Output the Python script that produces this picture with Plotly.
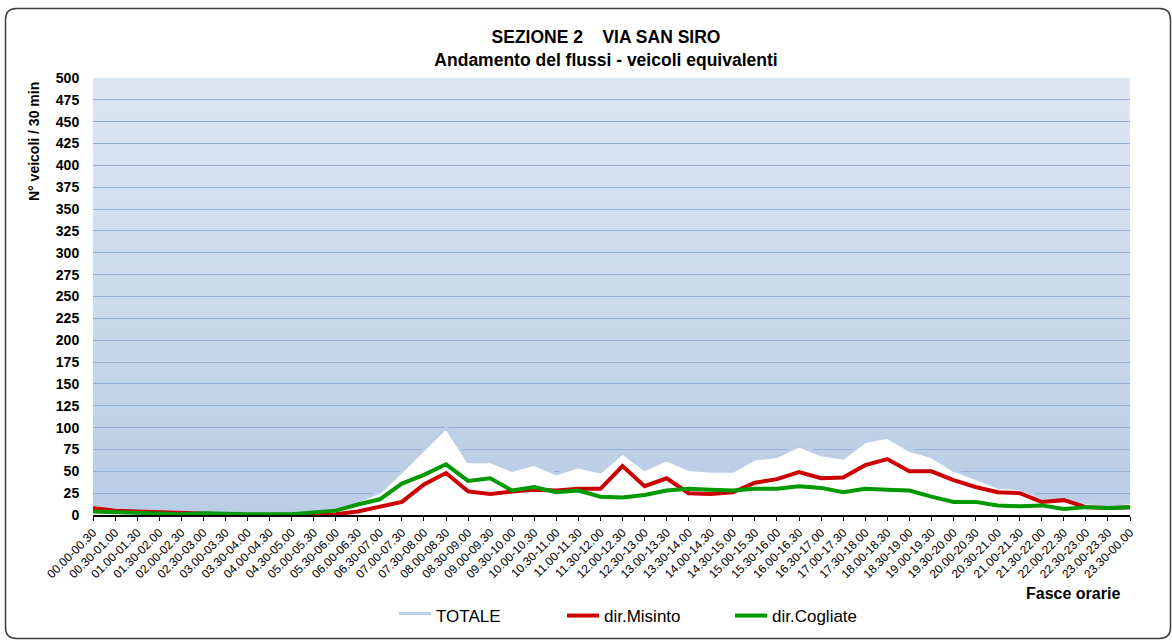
import plotly.graph_objects as go

# fasce orarie (30 min)
fasce = ["00.00-00.30", "00.30-01.00", "01.00-01.30", "01.30-02.00", "02.00-02.30", "02.30-03.00",
         "03.00-03.30", "03.30-04.00", "04.00-04.30", "04.30-05.00", "05.00-05.30", "05.30-06.00",
         "06.00-06.30", "06.30-07.00", "07.00-07.30", "07.30-08.00", "08.00-08.30", "08.30-09.00",
         "09.00-09.30", "09.30-10.00", "10.00-10.30", "10.30-11.00", "11.00-11.30", "11.30-12.00",
         "12.00-12.30", "12.30-13.00", "13.00-13.30", "13.30-14.00", "14.00-14.30", "14.30-15.00",
         "15.00-15.30", "15.30-16.00", "16.00-16.30", "16.30-17.00", "17.00-17.30", "17.30-18.00",
         "18.00-18.30", "18.30-19.00", "19.00-19.30", "19.30-20.00", "20.00-20.30", "20.30-21.00",
         "21.00-21.30", "21.30-22.00", "22.00-22.30", "22.30-23.00", "23.00-23.30", "23.30-00.00"]

totale = [12, 8, 6, 4, 3, 3, 2, 1, 1, 1, 3, 6, 16,
          26, 50, 75, 100, 61, 61, 51, 58, 47, 55, 49, 71, 52, 63,
          52, 50, 50, 64, 67, 79, 69, 65, 84, 89, 74, 67, 51,
          42, 32, 30, 20, 18, 14, 12, 14]

misinto = [8, 5, 4, 3, 2, 1, 1, 0, 0, 0, 0, 1, 4,
           9, 15, 35, 48, 27, 24, 27, 29, 28, 30, 30, 56, 33, 42,
           25, 24, 26, 37, 41, 49, 42, 43, 57, 64, 50, 50, 40,
           32, 26, 25, 15, 17, 9, 8, 9]

cogliate = [4, 3, 2, 1, 1, 2, 1, 1, 1, 1, 3, 5, 12,
            18, 36, 46, 58, 39, 42, 28, 32, 26, 28, 21, 20, 23, 28,
            30, 29, 28, 30, 30, 33, 31, 26, 30, 29, 28, 21, 15,
            15, 11, 10, 11, 7, 9, 8, 9]

y_ticks = list(range(0, 501, 25))

FONT = "Arial, Liberation Sans, sans-serif"

# plot area in pixels (for placing things in the margins)
L, R, T, B = 93, 1130, 78, 515


def px_x(px):
    return (px - L) / (R - L)


def px_y(py):
    return (B - py) / (B - T)


def rounded_rect(x0, y0, x1, y1, r):
    # path in paper coords from pixel corners
    pts = [
        f"M {px_x(x0 + r)},{px_y(y0)}",
        f"L {px_x(x1 - r)},{px_y(y0)}",
        f"Q {px_x(x1)},{px_y(y0)} {px_x(x1)},{px_y(y0 + r)}",
        f"L {px_x(x1)},{px_y(y1 - r)}",
        f"Q {px_x(x1)},{px_y(y1)} {px_x(x1 - r)},{px_y(y1)}",
        f"L {px_x(x0 + r)},{px_y(y1)}",
        f"Q {px_x(x0)},{px_y(y1)} {px_x(x0)},{px_y(y1 - r)}",
        f"L {px_x(x0)},{px_y(y0 + r)}",
        f"Q {px_x(x0)},{px_y(y0)} {px_x(x0 + r)},{px_y(y0)}",
        "Z",
    ]
    return " ".join(pts)


fig = go.Figure()

fig.add_trace(go.Scatter(x=fasce, y=totale, name="TOTALE", mode="lines",
                         fill="tozeroy", fillcolor="white",
                         line=dict(color="#bccfe6", width=3)))
fig.add_trace(go.Scatter(x=fasce, y=misinto, name="dir.Misinto", mode="lines",
                         line=dict(color="#cc0000", width=4)))
fig.add_trace(go.Scatter(x=fasce, y=cogliate, name="dir.Cogliate", mode="lines",
                         line=dict(color="#009900", width=4)))

# gradient background of the plot area
shapes = []
n_bands = 60
top_c = (221, 231, 243)
bot_c = (184, 204, 228)
for k in range(n_bands):
    t = (k + 0.5) / n_bands
    c = tuple(round(bot_c[j] + (top_c[j] - bot_c[j]) * t) for j in range(3))
    shapes.append(dict(type="rect", xref="paper", yref="y", layer="below",
                       x0=0, x1=1, y0=500 * k / n_bands, y1=500 * (k + 1) / n_bands,
                       fillcolor=f"rgb{c}", line=dict(width=0)))

# outer rounded border
shapes.append(dict(type="path", xref="paper", yref="paper", layer="above",
                   path=rounded_rect(5.5, 8.5, 1170.5, 638.5, 11),
                   line=dict(color="#404040", width=1.5)))

fig.update_layout(
    width=1172, height=640,
    margin=dict(l=L, r=1172 - R, t=T, b=640 - B),
    paper_bgcolor="white",
    plot_bgcolor="#cad9ec",
    font=dict(family=FONT, color="black"),
    title=dict(text="<b>SEZIONE 2\u00a0\u00a0\u00a0\u00a0VIA SAN SIRO<br>Andamento del flussi - veicoli equivalenti</b>",
               x=606 / 1172, xanchor="center", y=1 - 43 / 640, yanchor="middle",
               font=dict(size=17.5, family=FONT, color="black")),
    showlegend=True,
    legend=dict(orientation="h", x=px_x(394), xanchor="left",
                yref="container", y=1 - 616 / 640, yanchor="middle",
                font=dict(size=17, family=FONT), itemwidth=32, entrywidth=121,
                bgcolor="rgba(0,0,0,0)"),
    shapes=shapes,
    annotations=[
        dict(text="<b>N° veicoli / 30 min</b>", xref="paper", yref="paper",
             x=px_x(34), y=px_y(142), textangle=-90, showarrow=False,
             font=dict(size=14, family=FONT), xanchor="center", yanchor="middle"),
        dict(text="<b>Fasce orarie</b>", xref="paper", yref="paper",
             x=px_x(1073), y=px_y(593), showarrow=False,
             font=dict(size=16, family=FONT), xanchor="center", yanchor="middle"),
    ],
)

fig.update_xaxes(type="category", range=[0, len(fasce) - 1], tickangle=-45,
                 tickfont=dict(size=12, family=FONT), showgrid=False,
                 showline=True, linecolor="black", linewidth=2,
                 ticks="outside", ticklen=4, tickcolor="black", zeroline=False)
fig.update_yaxes(range=[0, 500], tickvals=y_ticks, ticktext=[f"<b>{v}</b>" for v in y_ticks],
                 tickfont=dict(size=14, family=FONT), showgrid=True,
                 gridcolor="#93afd3", gridwidth=1, zeroline=False, showline=False,
                 ticks="outside", ticklen=10, tickcolor="rgba(0,0,0,0)")

fig.write_html("out.html", config={"displayModeBar": False},
               post_script="document.body.style.margin='0px';")
